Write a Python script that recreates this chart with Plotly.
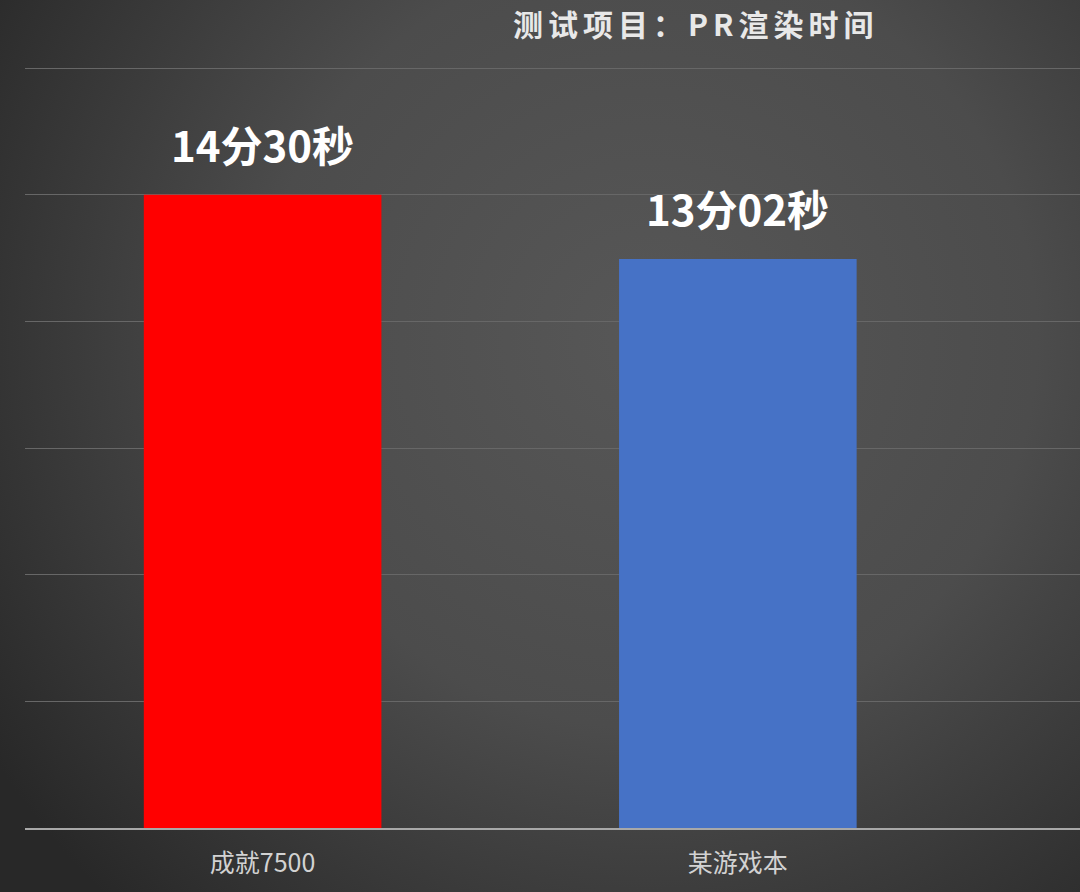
import base64
import plotly.graph_objects as go

# ---- data ----
categories = ["成就7500", "某游戏本"]
seconds = [870, 782]              # 14分30秒, 13分02秒
value_labels = ["14分30秒", "13分02秒"]
bar_colors = ["#FF0000", "#4672C6"]
title_text = "测试项目：PR渲染时间"

W, H = 1080, 892
ML, MR, MT, MB = 25, 0, 42, 64
PW, PH = W - ML - MR, H - MT - MB

# radial gradient background (styling only)
svg = f'''<svg xmlns="http://www.w3.org/2000/svg" width="{W}" height="{H}" preserveAspectRatio="none">
<defs><radialGradient id="g" gradientUnits="userSpaceOnUse" cx="{W*0.6}" cy="{H*0.38}" r="{W*0.72}">
<stop offset="0" stop-color="#575757"/>
<stop offset="0.5" stop-color="#4c4c4c"/>
<stop offset="1" stop-color="#282828"/>
</radialGradient></defs>
<rect width="{W}" height="{H}" fill="url(#g)"/></svg>'''
bg_uri = "data:image/svg+xml;base64," + base64.b64encode(svg.encode()).decode()

fig = go.Figure()
fig.add_trace(go.Bar(
    x=categories, y=seconds, width=0.5,
    marker=dict(color=bar_colors, line=dict(width=0)),
    hoverinfo="skip",
))

for c, v, t in zip(categories, seconds, value_labels):
    fig.add_annotation(
        x=c, y=v, xref="x", yref="y", text=f"<b>{t}</b>", showarrow=False,
        yanchor="middle", yshift=51,
        font=dict(family="Noto Sans CJK SC", size=42, color="#FFFFFF"),
    )

spaced_title = "\u2006".join(list(title_text))
fig.add_annotation(
    x=(693 - ML) / PW, y=1 + (MT - 23) / PH, xref="paper", yref="paper",
    text=f"<b>{spaced_title}</b>",
    showarrow=False, xanchor="center", yanchor="middle",
    font=dict(family="Noto Sans CJK SC", size=30, color="#E8E8E8"),
)

fig.update_layout(
    width=W, height=H,
    margin=dict(l=ML, r=MR, t=MT, b=MB),
    paper_bgcolor="#3a3a3a", plot_bgcolor="rgba(0,0,0,0)",
    showlegend=False,
    images=[dict(source=bg_uri, xref="paper", yref="paper", x=-ML / PW, y=1 + MT / PH,
                 sizex=W / PW, sizey=H / PH, xanchor="left", yanchor="top",
                 sizing="stretch", layer="below")],
    font=dict(family="Noto Sans CJK SC", color="#D0D0D0"),
)
fig.update_xaxes(
    range=[-0.5, 1.72], showgrid=False, showline=True, linecolor="#A8A8A8", linewidth=2,
    ticks="", tickfont=dict(size=25, color="#D2D2D2"), ticklabelstandoff=12, fixedrange=True,
)
fig.update_yaxes(
    range=[0, 1080], dtick=174, tick0=0, showticklabels=False, showgrid=True,
    gridcolor="#676767", gridwidth=1, zeroline=False, fixedrange=True,
)

fig.write_html("out.html", config={"displayModeBar": False})
with open("out.html", encoding="utf-8") as f:
    html = f.read()
html = html.replace("<body>", '<body style="margin:0;padding:0;overflow:hidden">', 1)
with open("out.html", "w", encoding="utf-8") as f:
    f.write(html)
